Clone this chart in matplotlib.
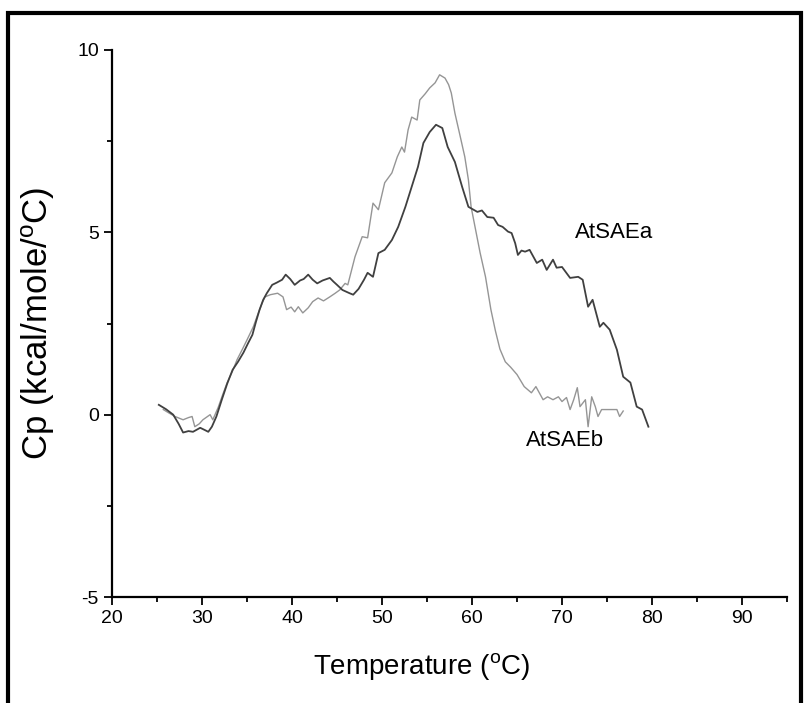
import numpy as np
import matplotlib
matplotlib.use('Agg')
import matplotlib.pyplot as plt
from matplotlib.ticker import MultipleLocator
from matplotlib.patches import Rectangle

plt.rcParams['font.family'] = ['Liberation Sans', 'DejaVu Sans']
plt.rcParams['axes.unicode_minus'] = False

# AtSAEa (darker trace)
temp_a = [25.2, 26.0, 26.8, 27.4, 27.9, 28.5, 29.0, 29.8, 30.3, 30.7, 31.1, 31.6,
          32.2, 32.8, 33.4, 34.0, 34.6, 35.1, 35.6, 36.0, 36.4, 36.8, 37.2, 37.8,
          38.3, 38.9, 39.3, 39.8, 40.3, 40.9, 41.3, 41.8, 42.3, 42.8, 43.4, 44.2,
          44.6, 45.0, 45.6, 46.4, 46.8, 47.4, 48.0, 48.4, 49.0, 49.6, 50.3, 51.1,
          51.8, 52.6, 53.3, 54.0, 54.6, 55.3, 56.0, 56.7, 57.3, 58.1, 58.9, 59.6,
          60.6, 61.1, 61.7, 62.4, 62.9, 63.4, 64.0, 64.4, 64.8, 65.1, 65.5, 65.9,
          66.4, 67.2, 67.8, 68.3, 69.0, 69.4, 70.0, 70.9, 71.8, 72.3, 72.9, 73.4,
          74.2, 74.6, 75.3, 76.1, 76.8, 77.6, 78.3, 78.9, 79.6]
cp_a = [0.27, 0.15, 0.00, -0.25, -0.49, -0.45, -0.47, -0.36, -0.42, -0.47, -0.33, -0.05,
        0.41, 0.85, 1.23, 1.45, 1.70, 1.95, 2.19, 2.55, 2.88, 3.15, 3.33, 3.56,
        3.62, 3.70, 3.84, 3.72, 3.56, 3.68, 3.72, 3.84, 3.70, 3.60, 3.68, 3.75,
        3.65, 3.56, 3.42, 3.33, 3.29, 3.45, 3.70, 3.89, 3.78, 4.43, 4.52, 4.79,
        5.15, 5.70, 6.25, 6.80, 7.45, 7.75, 7.95, 7.86, 7.34, 6.93, 6.25, 5.70,
        5.56, 5.60, 5.42, 5.40, 5.20, 5.15, 5.02, 4.98, 4.70, 4.38, 4.50, 4.47,
        4.52, 4.16, 4.25, 3.97, 4.25, 4.03, 4.05, 3.75, 3.78, 3.70, 2.96, 3.15,
        2.41, 2.52, 2.33, 1.78, 1.04, 0.88, 0.22, 0.14, -0.33]

# AtSAEb (lighter trace)
temp_b = [25.7, 26.3, 27.0, 27.9, 28.5, 28.9, 29.2, 29.7, 30.1, 30.9, 31.2, 31.8,
          32.3, 32.8, 33.4, 33.9, 34.5, 35.0, 35.7, 36.2, 36.7, 37.0, 37.6, 38.4,
          39.0, 39.4, 39.9, 40.3, 40.7, 41.2, 41.8, 42.3, 42.9, 43.5, 44.2, 44.8,
          45.3, 45.9, 46.2, 47.0, 47.8, 48.4, 49.0, 49.6, 50.3, 51.1, 51.7, 52.2,
          52.5, 52.9, 53.3, 53.9, 54.2, 54.8, 55.3, 55.9, 56.4, 57.0, 57.4, 57.7,
          58.1, 58.7, 59.2, 59.6, 59.9, 60.4, 60.9, 61.5, 62.1, 62.6, 63.1, 63.7,
          64.3, 65.0, 65.8, 66.6, 67.1, 67.9, 68.4, 69.0, 69.6, 70.0, 70.5, 70.9,
          71.3, 71.7, 72.0, 72.6, 72.9, 73.3, 73.7, 74.0, 74.4, 75.0, 75.6, 76.1,
          76.4, 76.8]
cp_b = [0.14, 0.05, -0.05, -0.14, -0.08, -0.05, -0.33, -0.25, -0.14, 0.00, -0.14, 0.20,
        0.55, 0.88, 1.20, 1.51, 1.80, 2.05, 2.41, 2.75, 3.07, 3.23, 3.29, 3.33,
        3.23, 2.88, 2.95, 2.82, 2.96, 2.79, 2.93, 3.10, 3.20, 3.12, 3.23, 3.33,
        3.42, 3.60, 3.56, 4.33, 4.88, 4.85, 5.80, 5.62, 6.36, 6.63, 7.07, 7.34,
        7.20, 7.81, 8.16, 8.08, 8.63, 8.80, 8.96, 9.10, 9.32, 9.23, 9.05, 8.82,
        8.27, 7.62, 7.07, 6.44, 5.70, 5.07, 4.44, 3.78, 2.88, 2.30, 1.80, 1.45,
        1.30, 1.10, 0.77, 0.60, 0.77, 0.41, 0.49, 0.41, 0.49, 0.36, 0.47, 0.14,
        0.41, 0.74, 0.22, 0.41, -0.33, 0.49, 0.22, -0.05, 0.14, 0.14, 0.14, 0.14,
        -0.05, 0.10]

W, H = 805, 703
fig = plt.figure(figsize=(W / 100, H / 100), dpi=100)
ax = fig.add_axes([112 / W, (H - 597) / H, (787 - 112) / W, (597 - 50) / H])

ax.plot(temp_b, cp_b, color='#959595', lw=1.0)
ax.plot(temp_a, cp_a, color='#404040', lw=1.3)

ax.text(71.4, 5.0, 'AtSAEa', fontsize=16, va='center', ha='left')
ax.text(66.0, -0.7, 'AtSAEb', fontsize=16, va='center', ha='left')

ax.set_xlim(20, 95)
ax.set_ylim(-5, 10)
ax.set_xticks(range(20, 91, 10))
ax.set_yticks([-5, 0, 5, 10])
ax.xaxis.set_minor_locator(MultipleLocator(5))
ax.yaxis.set_minor_locator(MultipleLocator(2.5))
ax.tick_params(which='major', direction='out', length=6, width=1.3, labelsize=14)
ax.tick_params(which='minor', direction='out', length=3.5, width=1.3)
ax.spines['top'].set_visible(False)
ax.spines['right'].set_visible(False)
for s in ['left', 'bottom']:
    ax.spines[s].set_linewidth(1.6)

ax.set_xlabel('Temperature ($\\mathregular{^oC}$)', fontsize=20)
ax.xaxis.set_label_coords(0.459, -0.098)
ax.set_ylabel('Cp (kcal/mole/$\\mathregular{^oC}$)', fontsize=25)
ax.yaxis.set_label_coords(-0.082, 0.5)

# outer frame
fig.patches.append(Rectangle((8 / W, -0.05), (801 - 8) / W, (H - 13) / H + 0.05,
                             transform=fig.transFigure, fill=False,
                             edgecolor='black', lw=3))

fig.savefig('out.png', dpi=100)
